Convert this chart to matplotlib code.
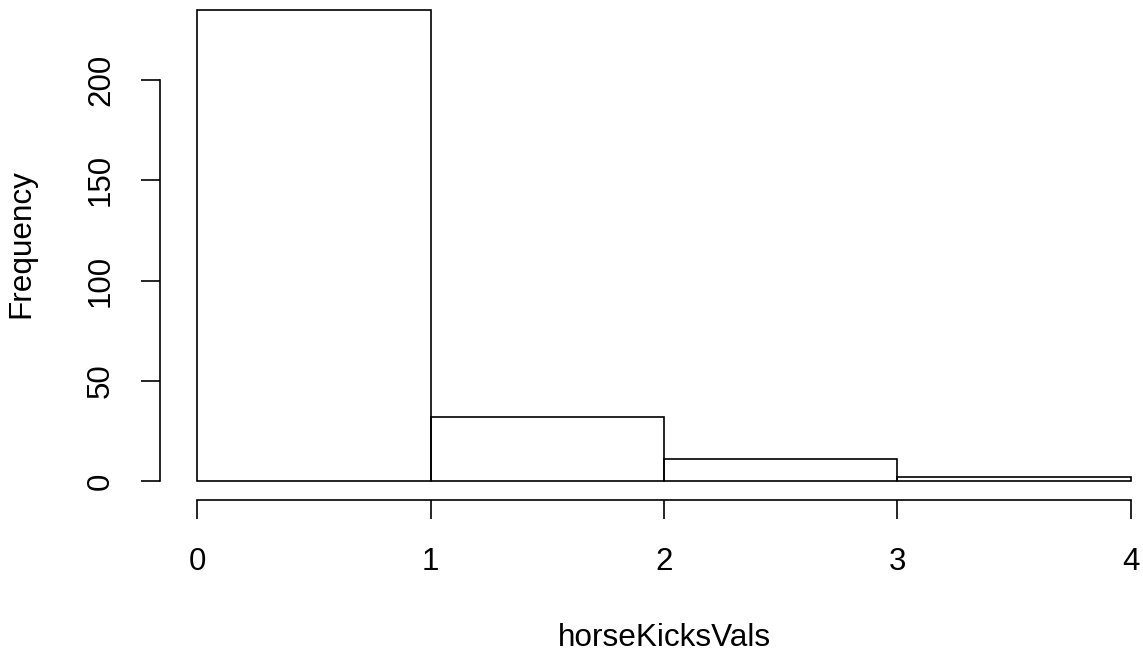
import matplotlib
matplotlib.use("Agg")
import matplotlib.pyplot as plt

bin_edges = [0, 1, 2, 3, 4]
counts = [235, 32, 11, 2]
x_ticks = [0, 1, 2, 3, 4]
y_ticks = [0, 50, 100, 150, 200]
x_label = "horseKicksVals"
y_label = "Frequency"

plt.rcParams['font.family'] = ['Liberation Sans', 'DejaVu Sans']
W, H = 1143, 652
fig = plt.figure(figsize=(W / 100, H / 100), dpi=100)

# axes region in pixels (may extend past the figure like R's plot region)
left, right, top, bottom = 160, 1168, -9, 500
ax = fig.add_axes([left / W, 1 - bottom / H, (right - left) / W, (bottom - top) / H])

lefts = bin_edges[:-1]
widths = [b - a for a, b in zip(bin_edges[:-1], bin_edges[1:])]
ax.bar(lefts, counts, width=widths, align='edge', fill=False, edgecolor='black', linewidth=1.2)

xr = bin_edges[-1] - bin_edges[0]
ax.set_xlim(bin_edges[0] - 0.04 * xr, bin_edges[-1] + 0.04 * xr)
ymax = max(counts)
ax.set_ylim(-0.04 * ymax, ymax * 1.04)

for s in ['top', 'right']:
    ax.spines[s].set_visible(False)
ax.spines['left'].set_bounds(y_ticks[0], y_ticks[-1])
ax.spines['bottom'].set_bounds(x_ticks[0], x_ticks[-1])
for s in ['left', 'bottom']:
    ax.spines[s].set_linewidth(1.2)

ax.set_xticks(x_ticks)
ax.set_xticklabels([str(t) for t in x_ticks])
ax.set_yticks(y_ticks)
ax.set_yticklabels([str(t) for t in y_ticks], rotation=90, va='center')
ax.tick_params(axis='both', length=13.7, width=1.2, labelsize=22.5)
ax.tick_params(axis='x', pad=20)
ax.tick_params(axis='y', pad=18)

fig.text(664 / W, 1 - 646 / H, x_label, ha='center', va='baseline', fontsize=22.7)
fig.text(21 / W, 1 - 244 / H, y_label, ha='center', va='center', rotation=90, fontsize=22.7)

fig.savefig('out.png', dpi=100)
